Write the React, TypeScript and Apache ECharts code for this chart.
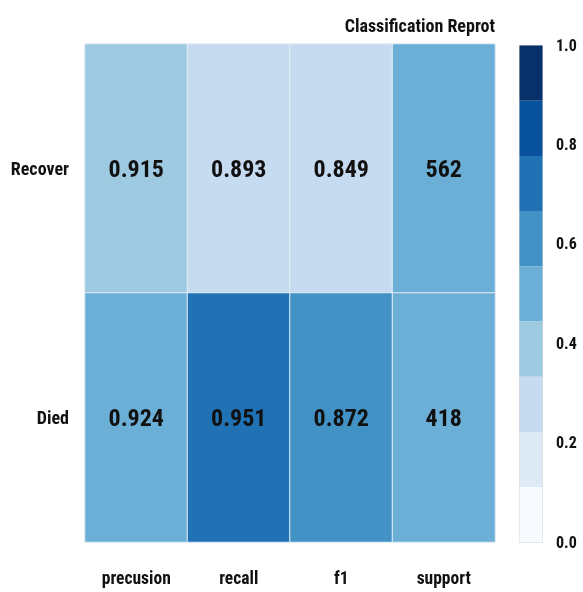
import React, { useEffect, useRef } from "react";
import * as echarts from "echarts";

const metrics = ["precusion", "recall", "f1", "support"];
const classes = ["Recover", "Died"];
const recoverValues = ["0.915", "0.893", "0.849", "562"];
const diedValues = ["0.924", "0.951", "0.872", "418"];
// colour scale position of each cell (0..1)
const recoverShade = [0.4, 0.28, 0.28, 0.5];
const diedShade = [0.5, 0.72, 0.6, 0.5];
const blues = ["#f7fbff", "#deebf7", "#c6dbef", "#9ecae1", "#6baed6", "#4292c6", "#2171b5", "#08519c", "#08306b"];

const FONT = "'Roboto Condensed', 'Liberation Sans Narrow', Roboto, sans-serif";

export default function App() {
  const ref = useRef<HTMLDivElement>(null);
  useEffect(() => {
    if (!ref.current) return;
    const chart = echarts.init(ref.current, null, { renderer: "svg" });
    const data: any[] = [];
    metrics.forEach((m, i) => {
      data.push([i, 0, recoverValues[i], recoverShade[i]]);
      data.push([i, 1, diedValues[i], diedShade[i]]);
    });
    chart.setOption({
      animation: false,
      title: {
        text: "Classification Reprot",
        right: 88,
        top: 16,
        padding: 0,
        textStyle: { fontFamily: FONT, fontSize: 18, fontWeight: "bold", color: "#111" },
      },
      grid: [
        { left: 85, right: 88, top: 44, bottom: 50 },
        { left: 519, width: 23, top: 45, bottom: 50 },
      ],
      xAxis: [
        {
          type: "category",
          data: metrics,
          gridIndex: 0,
          axisLine: { show: false },
          axisTick: { show: false },
          axisLabel: { interval: 0, fontFamily: FONT, fontSize: 17.5, fontWeight: "bold", color: "#111", margin: 27 },
        },
        { type: "value", gridIndex: 1, show: false },
      ],
      yAxis: [
        {
          type: "category",
          data: classes,
          inverse: true,
          gridIndex: 0,
          axisLine: { show: false },
          axisTick: { show: false },
          axisLabel: { interval: 0, fontFamily: FONT, fontSize: 18, fontWeight: "bold", color: "#111", margin: 16 },
        },
        {
          type: "value",
          gridIndex: 1,
          min: 0,
          max: 1,
          interval: 0.2,
          position: "right",
          axisLine: { show: false },
          axisTick: { show: false },
          splitLine: { show: false },
          axisLabel: {
            fontFamily: FONT,
            fontSize: 16,
            fontWeight: "bold",
            color: "#111",
            margin: 14,
            formatter: (v: number) => v.toFixed(1),
          },
        },
      ],
      visualMap: {
        type: "piecewise",
        dimension: 3,
        seriesIndex: 0,
        min: 0,
        max: 1,
        splitNumber: 9,
        inRange: { color: blues },
        orient: "vertical",
        left: 519,
        top: 45,
        itemWidth: 23,
        itemHeight: 55.2,
        itemGap: 0,
        itemSymbol: "rect",
        showLabel: false,
        padding: 0,
        borderColor: "#d6d6d6",
        borderWidth: 1,
        selectedMode: false,
        hoverLink: false,
      },
      series: [
        {
          type: "heatmap",
          xAxisIndex: 0,
          yAxisIndex: 0,
          data,
          itemStyle: { borderColor: "#e4edf6", borderWidth: 1 },
          label: {
            show: true,
            formatter: (p: any) => p.value[2],
            fontFamily: FONT,
            fontSize: 24,
            fontWeight: "bold",
            color: "#111",
          },
          emphasis: { disabled: true },
        },
      ],
    });
    return () => chart.dispose();
  }, []);
  return <div ref={ref} style={{ position: "fixed", left: 0, top: 0, width: 583, height: 592 }} />;
}
